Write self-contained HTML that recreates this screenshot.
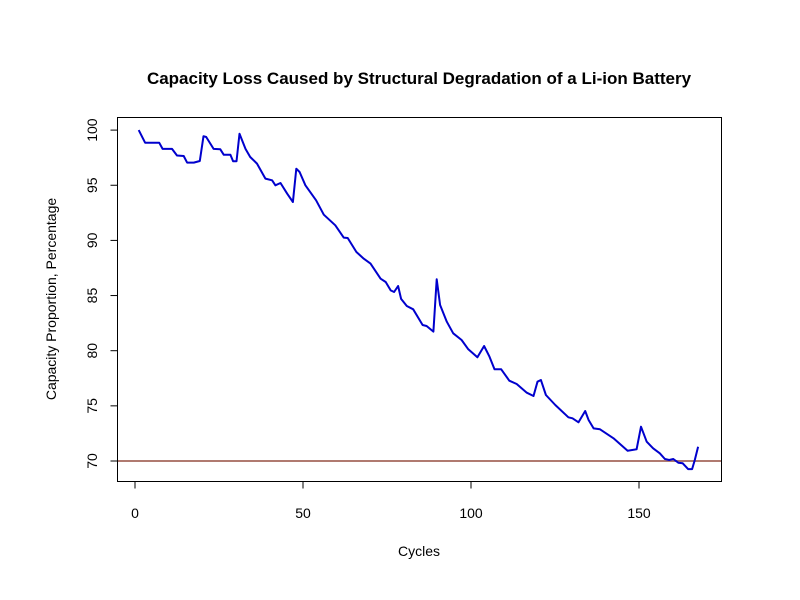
<!DOCTYPE html>
<html><head><meta charset="utf-8"><style>
html,body{margin:0;padding:0;background:#fff;}
svg{display:block;font-family:"Liberation Sans",Arial,sans-serif;}
</style></head><body>
<svg id="chart" width="800" height="600" viewBox="0 0 800 600">
<rect x="0" y="0" width="800" height="600" fill="#fff"/>
<text x="419" y="84" text-anchor="middle" font-size="17" font-weight="bold" fill="#000">Capacity Loss Caused by Structural Degradation of a Li-ion Battery</text>
<text x="419" y="556" text-anchor="middle" font-size="14" fill="#000">Cycles</text>
<text transform="translate(56,299) rotate(-90)" text-anchor="middle" font-size="14" fill="#000">Capacity Proportion, Percentage</text>
<g id="axes"></g>
<g id="marks"></g>
<rect x="117.5" y="117.5" width="604" height="364" fill="none" stroke="#000" stroke-width="1"/>
</svg>
<script>
const cycles=[1.1,3,7.2,8.2,11,12.5,14.5,15.5,17.5,19.3,20.4,21.2,23.4,25.4,26.4,28.4,29.2,30.2,31.1,32.9,34.3,36.3,38.8,40.8,41.8,43.3,45.3,47.0,48.0,49.0,50.7,53.9,56.2,59.6,62.1,63.3,65.9,68.1,70.1,73.1,74.6,76.1,77.1,78.3,79.2,80.9,82.8,85.6,86.8,88.8,89.8,90.8,92.8,94.7,97.2,99.2,101.9,103.9,105.5,107.0,109.0,111.4,113.6,116.6,118.6,119.8,120.8,122.3,125.1,129.0,130.2,132.0,134.0,135.0,136.5,138.4,142.4,146.6,149.3,150.6,152.3,154.2,156.2,157.7,159.0,160.2,161.7,163.0,164.6,165.8,166.6,167.6];
const capacity=[100.0,98.86,98.86,98.3,98.3,97.7,97.65,97.05,97.05,97.2,99.45,99.37,98.3,98.26,97.77,97.77,97.17,97.17,99.67,98.3,97.56,96.96,95.6,95.45,95.0,95.2,94.23,93.48,96.5,96.2,95.0,93.64,92.33,91.37,90.25,90.22,88.95,88.34,87.9,86.53,86.23,85.47,85.32,85.87,84.7,84.05,83.75,82.33,82.24,81.73,86.47,84.14,82.63,81.58,80.97,80.13,79.4,80.43,79.46,78.31,78.31,77.28,76.98,76.19,75.89,77.19,77.34,75.98,75.08,73.96,73.87,73.51,74.53,73.72,72.96,72.87,72.06,70.93,71.06,73.11,71.75,71.15,70.70,70.18,70.09,70.18,69.85,69.79,69.27,69.27,70.09,71.30];
const xTicks=[0,50,100,150];
const yTicks=[70,75,80,85,90,95,100];
const threshold=[70];
const NS="http://www.w3.org/2000/svg";
function sx(c){return 135+3.36*c;}
function sy(v){return 461-11.03*(v-70);}
const axes=document.getElementById('axes');
const marks=document.getElementById('marks');
function mk(tag,attrs,parent){const e=document.createElementNS(NS,tag);for(const k in attrs)e.setAttribute(k,attrs[k]);parent.appendChild(e);return e;}
xTicks.forEach(t=>{
  const l=mk('line',{x1:sx(t),x2:sx(t),y1:481.5,y2:488.5,stroke:'#000'},axes);
  
  
  const tx=mk('text',{x:sx(t),y:518,'text-anchor':'middle','font-size':'14',fill:'#000'},axes);
  tx.textContent=t;
  
  
});
mk('line',{x1:sx(xTicks[0]),x2:sx(xTicks[xTicks.length-1]),y1:481.5,y2:481.5,stroke:'#000'},axes);
yTicks.forEach(t=>{
  const l=mk('line',{x1:110.5,x2:117.5,y1:sy(t),y2:sy(t),stroke:'#000'},axes);
  
  
  const tx=mk('text',{transform:`translate(97,${sy(t)}) rotate(-90)`,'text-anchor':'middle','font-size':'14',fill:'#000'},axes);
  tx.textContent=t;
  
  
});
const th=mk('line',{x1:117.5,x2:721.5,y1:sy(threshold[0]),y2:sy(threshold[0]),stroke:'#b07a70','stroke-width':2},marks);


const pts=cycles.map((c,i)=>sx(c).toFixed(1)+','+sy(capacity[i]).toFixed(1)).join(' ');
const pl=mk('polyline',{points:pts,fill:'none',stroke:'#0000cd','stroke-width':2,'stroke-linejoin':'round'},marks);


</script>
</body></html>
